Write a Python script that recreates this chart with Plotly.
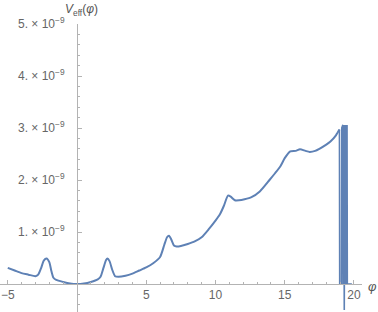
import plotly.graph_objects as go

# main curve (phi, V in units of 1e-9)
phi_main = [-5.0, -4.5, -4.0, -3.5, -3.0, -2.8, -2.6, -2.4, -2.2, -2.0, -1.85, -1.7, -1.5, -1.0, -0.5,
            0.0, 0.5, 1.0, 1.5, 1.7, 1.9, 2.1, 2.2, 2.35, 2.55, 2.75, 3.0, 3.5, 4.0, 4.5, 5.0, 5.5,
            6.0, 6.3, 6.5, 6.64, 6.8, 7.0, 7.2, 7.5, 8.0, 8.5, 9.0, 9.5, 10.0, 10.3, 10.6, 10.9,
            11.1, 11.4, 11.7, 12.1, 12.6, 13.2, 13.9, 14.3, 14.7, 15.0, 15.4, 15.8, 16.1, 16.5,
            16.8, 17.2, 17.5, 18.0, 18.3, 18.7, 18.95]
v_main = [0.31, 0.26, 0.21, 0.18, 0.15, 0.18, 0.30, 0.45, 0.49, 0.42, 0.25, 0.12, 0.08, 0.04, 0.01,
          0.0, 0.01, 0.04, 0.09, 0.14, 0.30, 0.46, 0.49, 0.44, 0.27, 0.15, 0.14, 0.16, 0.20, 0.26, 0.32, 0.40,
          0.52, 0.75, 0.90, 0.93, 0.86, 0.74, 0.72, 0.73, 0.77, 0.82, 0.90, 1.05, 1.22, 1.33, 1.50, 1.70,
          1.68, 1.61, 1.61, 1.63, 1.67, 1.78, 2.00, 2.13, 2.27, 2.42, 2.55, 2.56, 2.59, 2.56,
          2.54, 2.56, 2.60, 2.68, 2.74, 2.86, 2.97]

# numerical oscillation near the end
phi_osc = [18.95, 18.97, 19.1, 19.12, 19.2, 19.22, 19.26, 19.3, 19.34, 19.38, 19.42, 19.46, 19.5, 19.52, 19.85]
v_osc = [2.97, 0.0, 0.0, 3.0, 3.06, 0.0, 3.06, -0.5, 3.06, 0.0, 3.06, 0.0, 3.06, 0.0, 0.0]

xticks = [-5, 5, 10, 15, 20]
xtick_text = ["\u22125", "5", "10", "15", "20"]
yticks = [1, 2, 3, 4, 5]
ytick_text = ["1. \u00d7 10<sup>\u22129</sup>", "2. \u00d7 10<sup>\u22129</sup>", "3. \u00d7 10<sup>\u22129</sup>",
              "4. \u00d7 10<sup>\u22129</sup>", "5. \u00d7 10<sup>\u22129</sup>"]

color = "#5E81B5"
axcol = "#b3b3b3"
txtcol = "#666666"

xmin, xmax = -5.56, 20.58
ymin, ymax = -0.538, 5.0

fig = go.Figure()
fig.add_trace(go.Scatter(x=phi_main, y=[v * 1e-9 for v in v_main], mode="lines",
                         line=dict(color=color, width=2, shape="spline", smoothing=0.6),
                         hoverinfo="skip", showlegend=False))
fig.add_trace(go.Scatter(x=phi_osc, y=[v * 1e-9 for v in v_osc], mode="lines",
                         line=dict(color=color, width=1.6),
                         hoverinfo="skip", showlegend=False))

fig.update_layout(
    width=378, height=312,
    margin=dict(l=0, r=16, t=24, b=0),
    paper_bgcolor="white", plot_bgcolor="white",
    font=dict(family="Liberation Sans, Arial, sans-serif", size=12, color=txtcol),
    xaxis=dict(range=[xmin, xmax], showgrid=False, zeroline=False,
               showline=True, linecolor=axcol, linewidth=1,
               anchor="free", position=(0 - ymin) / (ymax - ymin),
               tickvals=xticks, ticktext=xtick_text,
               ticks="inside", ticklen=4, tickcolor=axcol, tickwidth=1,
               minor=dict(ticks="inside", ticklen=2, dtick=1, tickcolor=axcol, tickwidth=1),
               tickfont=dict(size=12, color=txtcol), automargin=False),
    yaxis=dict(range=[ymin * 1e-9, ymax * 1e-9], showgrid=False, zeroline=False,
               showline=True, linecolor=axcol, linewidth=1,
               anchor="free", position=(0 - xmin) / (xmax - xmin),
               tickvals=[v * 1e-9 for v in yticks], ticktext=ytick_text,
               ticks="inside", ticklen=4, tickcolor=axcol, tickwidth=1,
               minor=dict(ticks="inside", ticklen=2, dtick=0.2e-9, tick0=0, tickcolor=axcol, tickwidth=1),
               ticklabelstandoff=10,
               tickfont=dict(size=12, color=txtcol), automargin=False),
)

fig.add_annotation(text="<i>V</i><sub>eff</sub>(<i>\u03c6</i>)", xref="x", yref="paper",
                   x=-1.0, y=1, xanchor="left", yanchor="bottom", yshift=4,
                   showarrow=False, font=dict(size=12, color="#555555"))
fig.add_annotation(text="<i>\u03c6</i>", xref="paper", yref="y",
                   x=1.028, y=0, xanchor="center", yanchor="middle", yshift=-2,
                   showarrow=False, font=dict(size=13, color="#555555"))

fig.write_html("out.html", config={"displayModeBar": False},
               post_script="document.body.style.margin='0';document.body.style.overflow='hidden';")
